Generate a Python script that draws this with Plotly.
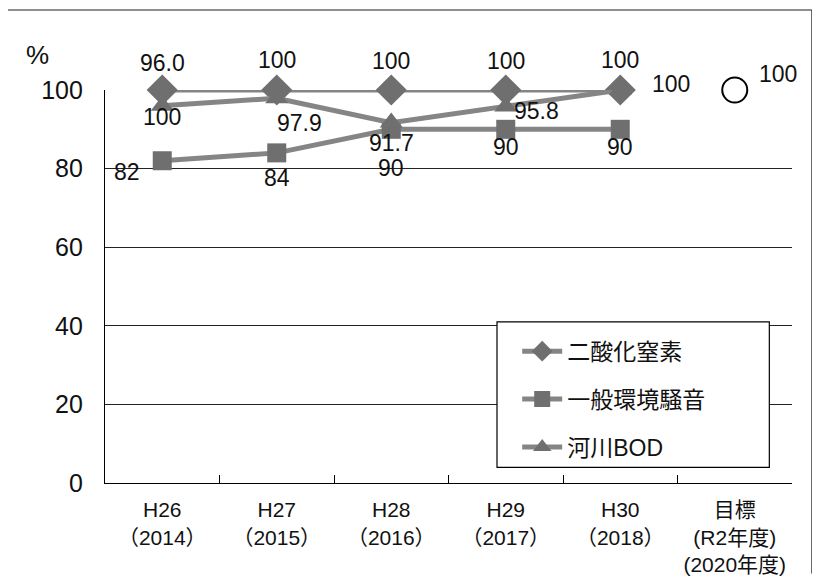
import plotly.graph_objects as go

categories = ["H26", "H27", "H28", "H29", "H30", "目標"]
tick_labels = ["H26<br>（2014）", "H27<br>（2015）", "H28<br>（2016）",
               "H29<br>（2017）", "H30<br>（2018）", "目標<br>(R2年度)<br>(2020年度)"]
no2 = [100, 100, 100, 100, 100]
noise = [82, 84, 90, 90, 90]
bod = [96.0, 97.9, 91.7, 95.8, 100]
target = [100]

FONT = "Liberation Sans, Noto Sans CJK JP, sans-serif"
LINE = "#858585"
MARK = "#6f6f6f"

fig = go.Figure()
years = categories[:5]
fig.add_trace(go.Scatter(x=years, y=no2, name="二酸化窒素", mode="lines+markers",
                         line=dict(color=LINE, width=5),
                         marker=dict(symbol="diamond", size=24, color=MARK),
                         legendgroup="a", cliponaxis=False))
fig.add_trace(go.Scatter(x=years, y=noise, name="一般環境騒音", mode="lines+markers",
                         line=dict(color=LINE, width=5),
                         marker=dict(symbol="square", size=19, color=MARK),
                         legendgroup="b", cliponaxis=False))
fig.add_trace(go.Scatter(x=years, y=bod, name="河川BOD", mode="lines+markers",
                         line=dict(color=LINE, width=5),
                         marker=dict(symbol="triangle-up", size=20, color=MARK),
                         legendgroup="c", cliponaxis=False))
fig.add_trace(go.Scatter(x=categories[5:], y=target, mode="markers", showlegend=False,
                         marker=dict(symbol="circle-open", size=25, color="black",
                                     line=dict(width=2, color="black")),
                         cliponaxis=False))

# data labels: (series, index, xshift, yshift)
series = {"no2": no2, "noise": noise, "bod": bod, "target": target}
label_specs = [
    ("bod", 0, 0, 43), ("no2", 0, 0, -27),
    ("no2", 1, 0, 30), ("no2", 2, 0, 29), ("no2", 3, 0, 29), ("no2", 4, 0, 30),
    ("bod", 1, 23, -25), ("bod", 2, 0, -20), ("bod", 3, 31, -4), ("bod", 4, 51, 6),
    ("noise", 0, -35, -11), ("noise", 1, 0, -25), ("noise", 2, 0, -39),
    ("noise", 3, 0, -18), ("noise", 4, 0, -18),
    ("target", 0, 43, 16),
]
for key, i, dx, dy in label_specs:
    v = series[key][i]
    xcat = categories[5] if key == "target" else years[i]
    txt = f"{v:.1f}" if v != int(v) or (key == "bod" and i == 0) else f"{int(v)}"
    fig.add_annotation(x=xcat, y=v, xref="x", yref="y", text=txt, showarrow=False,
                       xshift=dx, yshift=dy, font=dict(size=23, color="#111", family=FONT))

fig.add_annotation(x=-0.098, y=1.089, xref="paper", yref="paper", text="%", showarrow=False,
                   xanchor="center", yanchor="middle",
                   font=dict(size=26, color="#111", family=FONT))

# legend box
fig.add_shape(type="rect", xref="paper", yref="paper", x0=0.5706, x1=0.967, y0=0.04, y1=0.41,
              fillcolor="white", line=dict(color="black", width=1.2), layer="above")
# outer frame
for x0, y0, x1, y1 in [(-0.1456, -0.25, -0.1456, 1.2036), (-0.1456, 1.2036, 1.029, 1.2036),
                       (1.029, 1.2036, 1.029, -0.23)]:
    fig.add_shape(type="line", xref="paper", yref="paper", x0=x0, y0=y0, x1=x1, y1=y1,
                  line=dict(color="#222", width=1.2))

# the page body has an 8px margin; size/margins compensate so the plot sits where the reference has it
fig.update_layout(
    width=812, height=568,
    margin=dict(l=97, r=28, t=82, b=93, autoexpand=False),
    paper_bgcolor="white", plot_bgcolor="white",
    font=dict(family=FONT, size=23, color="#111"),
    showlegend=True,
    legend=dict(x=0.6, y=0.39, xanchor="left", yanchor="top", bgcolor="rgba(0,0,0,0)",
                borderwidth=0, tracegroupgap=15, font=dict(size=23, color="#111"),
                itemwidth=40, traceorder="grouped"),
    xaxis=dict(type="category", categoryorder="array", categoryarray=categories,
               tickvals=categories, ticktext=tick_labels, range=[-0.5, 5.5],
               showline=True, linecolor="black", linewidth=1.2, automargin=False,
               ticks="inside", tickson="boundaries", ticklen=8, tickcolor="black",
               showgrid=False, ticklabelstandoff=8, tickangle=0,
               tickfont=dict(size=21, color="#111", family=FONT)),
    yaxis=dict(range=[0, 100], tickvals=[0, 20, 40, 60, 80, 100], automargin=False,
               showline=True, linecolor="black", linewidth=1.2,
               showgrid=True, gridcolor="#222", gridwidth=1, zeroline=False,
               ticks="", ticklabelstandoff=16,
               tickfont=dict(size=25, color="#111", family=FONT)),
)

fig.write_html("out.html")
